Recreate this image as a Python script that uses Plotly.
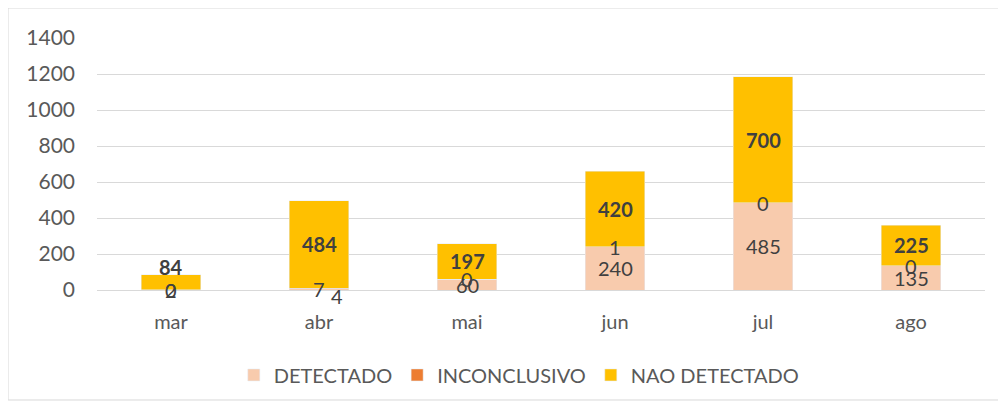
import plotly.graph_objects as go

months = ["mar", "abr", "mai", "jun", "jul", "ago"]
detectado = [2, 7, 60, 240, 485, 135]
inconclusivo = [0, 4, 0, 1, 0, 0]
nao_detectado = [84, 484, 197, 420, 700, 225]
y_ticks = [0, 200, 400, 600, 800, 1000, 1200, 1400]

FONT = "Lato"
fig = go.Figure()
fig.add_trace(go.Bar(x=months, y=detectado, name="DETECTADO", marker_color="#F8CBAD"))
fig.add_trace(go.Bar(x=months, y=inconclusivo, name="INCONCLUSIVO", marker_color="#ED7D31"))
fig.add_trace(go.Bar(x=months, y=nao_detectado, name="NAO DETECTADO", marker_color="#FFC000"))

# label nudges mimicking the original chart's label placement (pixels)
nudge = {("abr", "inc"): (18, -8), ("mar", "nao"): (0, 15)}

lab_font = dict(family=FONT, size=20, color="#404040")
anns = []
for i, m in enumerate(months):
    d, c, n = detectado[i], inconclusivo[i], nao_detectado[i]
    for key, yv, txt in (("det", d / 2, str(d)),
                         ("inc", d + c / 2, str(c)),
                         ("nao", d + c + n / 2, "<b>%d</b>" % n)):
        xs, ys = nudge.get((m, key), (0, 0))
        anns.append(dict(x=m, y=yv, text=txt, showarrow=False, xshift=xs, yshift=ys,
                         font=lab_font))

fig.update_layout(
    barmode="stack",
    bargap=0.595,
    width=1006, height=407,
    margin=dict(l=89, r=29, t=30, b=125),
    plot_bgcolor="white", paper_bgcolor="white",
    font=dict(family=FONT, size=20, color="#595959"),
    showlegend=True,
    legend=dict(orientation="h", x=0.475, xanchor="center", y=-0.337, yanchor="middle",
                font=dict(family=FONT, size=20, color="#595959"), itemwidth=30,
                traceorder="normal"),
    annotations=anns,
    shapes=[dict(type="rect", xref="paper", yref="paper", x0=-0.1002, x1=1.0169,
                 y0=-0.4365, y1=1.119, line=dict(color="#D9D9D9", width=1))],
)
fig.update_yaxes(range=[0, 1400], tickvals=y_ticks, gridcolor="#D9D9D9", gridwidth=1,
                 zeroline=False, showline=False, ticklabelstandoff=21,
                 tickfont=dict(family=FONT, size=21, color="#595959"))
fig.update_xaxes(showline=True, linecolor="#D9D9D9", ticklabelstandoff=14,
                 tickfont=dict(family=FONT, size=20, color="#595959"))

fig.write_html("out.html")
